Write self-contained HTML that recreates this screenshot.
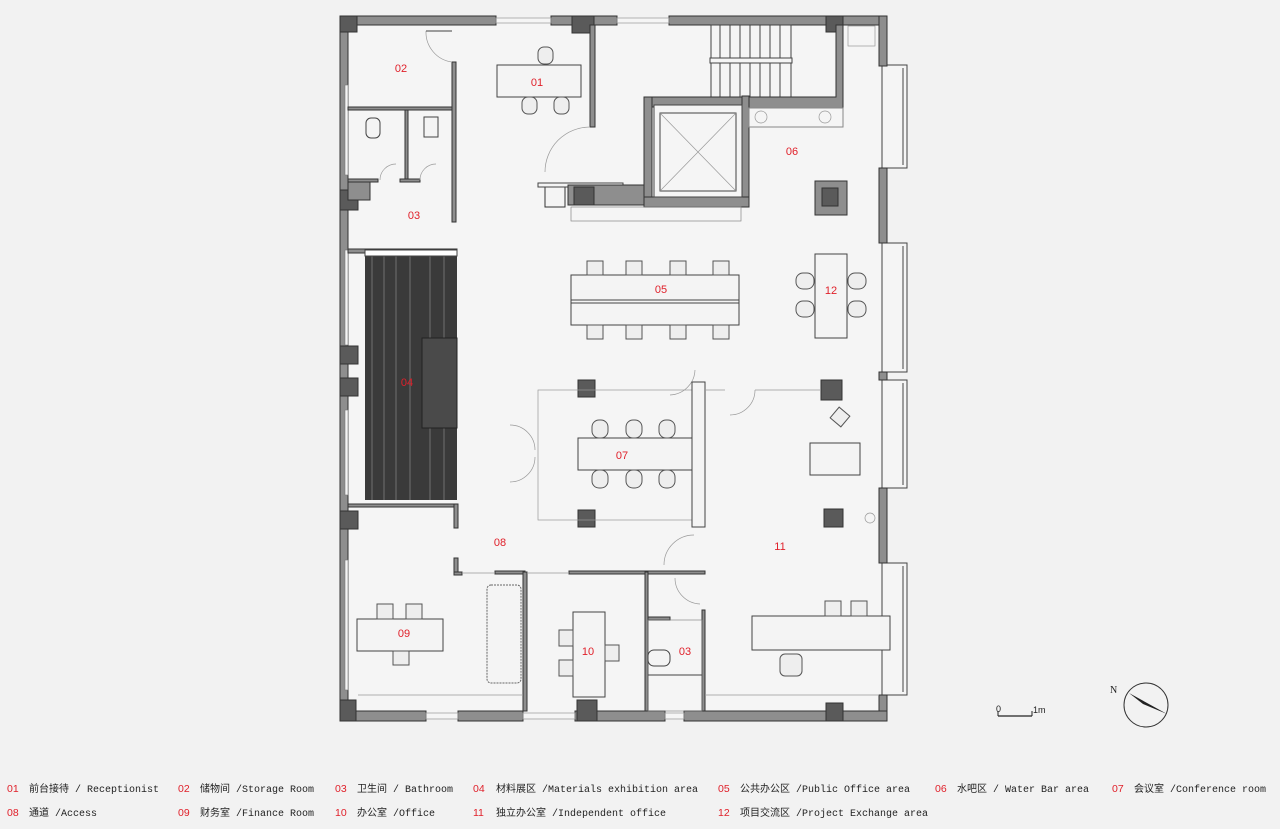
<!DOCTYPE html>
<html><head><meta charset="utf-8"><style>
html,body{margin:0;padding:0;background:#f2f2f2;}
svg{display:block}
.w{fill:#8e8e8e;stroke:#333;stroke-width:1}
.c{fill:#5a5a5a;stroke:#333;stroke-width:1}
.l{fill:none;stroke:#444;stroke-width:1}
.t{fill:none;stroke:#999;stroke-width:0.7}
.f{fill:#f4f4f4;stroke:#444;stroke-width:1}
.ch{fill:#eee;stroke:#555;stroke-width:1}
.r{fill:#e0202a;font-family:"Liberation Sans",sans-serif;font-size:11px;text-anchor:middle}
.lg{font-family:"Liberation Mono","Noto Sans CJK SC",monospace;font-size:10px;fill:#222}
.ln{font-family:"Liberation Sans",sans-serif;font-size:10.5px;fill:#e0202a}
</style></head><body>
<svg width="1280" height="829" viewBox="0 0 1280 829" xmlns="http://www.w3.org/2000/svg">
<rect width="1280" height="829" fill="#f2f2f2"/>
<!-- floor -->
<rect x="342" y="18" width="542" height="700" fill="#f5f5f5"/>
<!-- right bays -->
<g class="l" fill="none">
<rect x="882" y="65" width="25" height="103" fill="#f5f5f5"/>
<rect x="882" y="243" width="25" height="129" fill="#f5f5f5"/>
<rect x="882" y="380" width="25" height="108" fill="#f5f5f5"/>
<rect x="882" y="563" width="25" height="132" fill="#f5f5f5"/>
<line x1="903" y1="68" x2="903" y2="165"/><line x1="903" y1="246" x2="903" y2="369"/><line x1="903" y1="383" x2="903" y2="485"/><line x1="903" y1="566" x2="903" y2="692"/>
</g>
<!-- outer walls -->
<rect class="w" x="340" y="16" width="156" height="9"/>
<rect class="w" x="551" y="16" width="66" height="9"/>
<rect class="w" x="669" y="16" width="218" height="9"/>
<rect class="t" x="496" y="18" width="55" height="5"/>
<rect class="t" x="617" y="18" width="52" height="5"/>
<rect class="w" x="879" y="16" width="8" height="50"/>
<rect class="w" x="879" y="168" width="8" height="75"/>
<rect class="w" x="879" y="372" width="8" height="8"/>
<rect class="w" x="879" y="488" width="8" height="75"/>
<rect class="w" x="879" y="695" width="8" height="26"/>
<rect class="w" x="340" y="711" width="86" height="10"/>
<rect class="w" x="458" y="711" width="65" height="10"/>
<rect class="w" x="575" y="711" width="90" height="10"/>
<rect class="w" x="684" y="711" width="203" height="10"/>
<rect class="t" x="426" y="713" width="32" height="6"/><rect class="t" x="523" y="713" width="52" height="6"/><rect class="t" x="665" y="713" width="19" height="6"/>
<rect class="w" x="340" y="16" width="8" height="705"/>
<rect x="345" y="85" width="3" height="90" fill="#f5f5f5" stroke="#777" stroke-width="0.6"/>
<rect x="345" y="250" width="3" height="95" fill="#f5f5f5" stroke="#777" stroke-width="0.6"/>
<rect x="345" y="410" width="3" height="85" fill="#f5f5f5" stroke="#777" stroke-width="0.6"/>
<rect x="345" y="560" width="3" height="130" fill="#f5f5f5" stroke="#777" stroke-width="0.6"/>
<!-- columns -->
<g class="c">
<rect x="340" y="16" width="17" height="16"/><rect x="572" y="16" width="22" height="17"/><rect x="826" y="16" width="17" height="16"/>
<rect x="340" y="190" width="18" height="20"/><rect x="340" y="346" width="18" height="18"/><rect x="340" y="378" width="18" height="18"/>
<rect x="340" y="511" width="18" height="18"/><rect x="340" y="700" width="16" height="21"/>
<rect x="578" y="380" width="17" height="17"/><rect x="578" y="510" width="17" height="17"/>
<rect x="824" y="509" width="19" height="18"/><rect x="821" y="380" width="21" height="20"/>
<rect x="577" y="700" width="20" height="21"/><rect x="826" y="703" width="17" height="18"/>
<rect x="545" y="187" width="20" height="20" fill="#f4f4f4"/>
</g>
<!-- left rooms -->
<rect class="w" x="348" y="107" width="105" height="3"/>
<rect class="w" x="452" y="62" width="4" height="160"/>
<rect class="w" x="405" y="110" width="3" height="70"/>
<rect class="w" x="348" y="179" width="30" height="3"/><rect class="w" x="400" y="179" width="20" height="3"/>
<rect class="w" x="348" y="249" width="109" height="4"/>
<rect class="w" x="348" y="182" width="22" height="18" fill="#999"/>
<rect class="f" x="366" y="118" width="14" height="20" rx="5"/>
<rect class="f" x="424" y="117" width="14" height="20"/>
<path class="t" d="M380 180 A16 16 0 0 1 396 164 M420 180 A16 16 0 0 1 436 164 M426 31 A30 30 0 0 0 452 62"/>
<line class="l" x1="426" y1="31" x2="452" y2="31"/>
<!-- wood 04 -->
<rect x="365" y="256" width="92" height="244" fill="#3a3a3a"/>
<g stroke="#555" stroke-width="2">
<line x1="372" y1="256" x2="372" y2="500"/><line x1="384" y1="256" x2="384" y2="500"/><line x1="396" y1="256" x2="396" y2="500"/><line x1="410" y1="256" x2="410" y2="500"/><line x1="430" y1="256" x2="430" y2="500"/><line x1="444" y1="256" x2="444" y2="500"/>
</g>
<rect x="422" y="338" width="35" height="90" fill="#4a4a4a" stroke="#222"/>
<rect x="365" y="250" width="92" height="6" fill="#fff" stroke="#444"/>
<rect class="w" x="348" y="504" width="109" height="3"/>
<rect class="w" x="454" y="504" width="4" height="24"/>
<rect class="w" x="454" y="558" width="4" height="17"/>
<!-- mid horizontal wall -->
<rect class="w" x="454" y="572" width="8" height="3"/>
<rect class="w" x="495" y="571" width="30" height="3"/>
<rect class="w" x="569" y="571" width="136" height="3"/>
<rect class="w" x="523" y="572" width="4" height="139"/>
<rect class="w" x="645" y="572" width="3" height="139"/>
<rect class="w" x="702" y="610" width="3" height="101"/>
<rect class="w" x="648" y="617" width="22" height="3"/>
<line class="t" x1="462" y1="573" x2="495" y2="573"/><line class="t" x1="527" y1="573" x2="569" y2="573"/>
<rect x="648" y="620" width="54" height="91" fill="none" stroke="#777" stroke-width="0.6"/>
<line class="l" x1="648" y1="675" x2="702" y2="675"/>
<rect class="f" x="648" y="650" width="22" height="16" rx="6"/>
<path class="t" d="M675 578 A26 26 0 0 0 700 604 M670 395 A26 26 0 0 0 695 370"/>
<path class="t" d="M664 565 A30 30 0 0 1 694 535 M730 415 A25 25 0 0 0 755 390"/>
<!-- reception & core -->
<rect class="w" x="590" y="25" width="5" height="102"/>
<rect class="f" x="497" y="65" width="84" height="32"/>
<rect class="ch" x="538" y="47" width="15" height="17" rx="6"/><rect class="ch" x="522" y="97" width="15" height="17" rx="6"/><rect class="ch" x="554" y="97" width="15" height="17" rx="6"/>
<path class="t" d="M545 172 A45 45 0 0 1 590 127"/>
<rect class="f" x="538" y="183" width="85" height="4"/>
<!-- stair -->
<g class="l">
<rect x="711" y="25" width="80" height="72" fill="#f5f5f5"/>
<line x1="720" y1="25" x2="720" y2="97"/><line x1="730" y1="25" x2="730" y2="97"/><line x1="740" y1="25" x2="740" y2="97"/><line x1="750" y1="25" x2="750" y2="97"/><line x1="760" y1="25" x2="760" y2="97"/><line x1="770" y1="25" x2="770" y2="97"/><line x1="780" y1="25" x2="780" y2="97"/>
<rect x="710" y="58" width="82" height="5" fill="#f5f5f5"/>
</g>
<path d="M645 97 H836 V25 H843 V108 H742 V200 H654 V107 H652 V205 H568 V185 H645 Z" class="w"/>
<rect x="644" y="97" width="8" height="110" class="w"/>
<rect x="742" y="96" width="7" height="111" class="w"/>
<rect x="644" y="197" width="105" height="10" class="w"/>
<rect x="568" y="185" width="76" height="20" class="w"/>
<rect x="574" y="187" width="20" height="18" class="c"/>
<rect x="654" y="105" width="88" height="92" fill="#f5f5f5" stroke="#444"/>
<rect x="660" y="113" width="76" height="78" fill="none" stroke="#444"/>
<line class="t" x1="660" y1="113" x2="736" y2="191"/><line class="t" x1="736" y1="113" x2="660" y2="191"/>
<rect x="571" y="207" width="170" height="14" fill="none" stroke="#888" stroke-width="0.7"/>
<rect x="749" y="108" width="94" height="19" fill="#f5f5f5" stroke="#888"/>
<circle class="t" cx="761" cy="117" r="6"/><circle class="t" cx="825" cy="117" r="6"/>
<rect x="848" y="26" width="27" height="20" class="t"/>
<rect class="w" x="815" y="181" width="32" height="34" fill="#999"/><rect class="c" x="822" y="188" width="16" height="18"/>
<!-- 05 -->
<rect class="f" x="571" y="275" width="168" height="50"/><line class="l" x1="571" y1="300" x2="739" y2="300"/><line class="l" x1="571" y1="303" x2="739" y2="303"/>
<g class="ch">
<rect x="587" y="261" width="16" height="14"/><rect x="626" y="261" width="16" height="14"/><rect x="670" y="261" width="16" height="14"/><rect x="713" y="261" width="16" height="14"/>
<rect x="587" y="325" width="16" height="14"/><rect x="626" y="325" width="16" height="14"/><rect x="670" y="325" width="16" height="14"/><rect x="713" y="325" width="16" height="14"/>
</g>
<!-- 12 -->
<rect class="f" x="815" y="254" width="32" height="84"/>
<g class="ch"><rect x="796" y="273" width="18" height="16" rx="7"/><rect x="796" y="301" width="18" height="16" rx="7"/><rect x="848" y="273" width="18" height="16" rx="7"/><rect x="848" y="301" width="18" height="16" rx="7"/></g>
<!-- 07 -->
<rect x="538" y="390" width="155" height="130" fill="none" stroke="#999" stroke-width="0.7"/>
<rect class="f" x="578" y="438" width="115" height="32"/>
<g class="ch"><rect x="592" y="420" width="16" height="18" rx="7"/><rect x="626" y="420" width="16" height="18" rx="7"/><rect x="659" y="420" width="16" height="18" rx="7"/><rect x="592" y="470" width="16" height="18" rx="7"/><rect x="626" y="470" width="16" height="18" rx="7"/><rect x="659" y="470" width="16" height="18" rx="7"/></g>
<rect class="f" x="692" y="382" width="13" height="145"/>
<path class="t" d="M510 425 A25 25 0 0 1 535 450 M510 482 A25 25 0 0 0 535 457"/>
<line class="t" x1="705" y1="390" x2="725" y2="390"/><line class="t" x1="755" y1="390" x2="820" y2="390"/>
<!-- 11 -->
<rect class="f" x="810" y="443" width="50" height="32"/>
<rect class="f" x="752" y="616" width="138" height="34"/>
<g class="ch"><rect x="825" y="601" width="16" height="15"/><rect x="851" y="601" width="16" height="15"/><rect x="780" y="654" width="22" height="22" rx="5"/></g>
<rect class="ch" x="833" y="410" width="14" height="14" transform="rotate(40 840 417)"/>
<circle class="t" cx="870" cy="518" r="5"/>
<line class="t" x1="705" y1="695" x2="879" y2="695"/>
<line class="t" x1="358" y1="695" x2="523" y2="695"/>
<!-- 09 -->
<rect class="f" x="357" y="619" width="86" height="32"/>
<g class="ch"><rect x="377" y="604" width="16" height="15"/><rect x="406" y="604" width="16" height="15"/><rect x="393" y="651" width="16" height="14"/></g>
<rect x="487" y="585" width="34" height="98" rx="4" fill="#f4f4f4" stroke="#666" stroke-dasharray="2 1"/>
<!-- 10 -->
<rect class="f" x="573" y="612" width="32" height="85"/>
<g class="ch"><rect x="559" y="630" width="14" height="16"/><rect x="559" y="660" width="14" height="16"/><rect x="605" y="645" width="14" height="16"/></g>
<!-- labels -->
<text class="r" x="401" y="72">02</text><text class="r" x="537" y="86">01</text>
<text class="r" x="414" y="219">03</text><text class="r" x="792" y="155">06</text>
<text class="r" x="661" y="293">05</text><text class="r" x="831" y="294">12</text>
<text class="r" x="407" y="386">04</text><text class="r" x="622" y="459">07</text>
<text class="r" x="500" y="546">08</text><text class="r" x="780" y="550">11</text>
<text class="r" x="404" y="637">09</text><text class="r" x="588" y="655">10</text><text class="r" x="685" y="655">03</text>
<!-- scale & north -->
<line x1="998" y1="716" x2="1032" y2="716" stroke="#222" stroke-width="1.2"/>
<line x1="998" y1="711" x2="998" y2="716" stroke="#222"/><line x1="1032" y1="711" x2="1032" y2="716" stroke="#222"/>
<text x="996" y="712" font-family="Liberation Sans" font-size="9" fill="#222">0</text>
<text x="1033" y="713" font-family="Liberation Sans" font-size="9" fill="#222">1m</text>
<circle cx="1146" cy="705" r="22" fill="none" stroke="#333"/>
<path d="M1129 693 L1167 714 L1143 704 Z" fill="#222"/>
<text x="1110" y="693" font-family="Liberation Serif" font-size="10" fill="#222">N</text>
<!-- legend -->
<g>
<text class="ln" x="7" y="792">01</text><text class="lg" x="29" y="792">前台接待 / Receptionist</text>
<text class="ln" x="178" y="792">02</text><text class="lg" x="200" y="792">储物间 /Storage Room</text>
<text class="ln" x="335" y="792">03</text><text class="lg" x="357" y="792">卫生间 / Bathroom</text>
<text class="ln" x="473" y="792">04</text><text class="lg" x="496" y="792">材料展区 /Materials exhibition area</text>
<text class="ln" x="718" y="792">05</text><text class="lg" x="740" y="792">公共办公区 /Public Office area</text>
<text class="ln" x="935" y="792">06</text><text class="lg" x="957" y="792">水吧区 / Water Bar area</text>
<text class="ln" x="1112" y="792">07</text><text class="lg" x="1134" y="792">会议室 /Conference room</text>
<text class="ln" x="7" y="816">08</text><text class="lg" x="29" y="816">通道 /Access</text>
<text class="ln" x="178" y="816">09</text><text class="lg" x="200" y="816">财务室 /Finance Room</text>
<text class="ln" x="335" y="816">10</text><text class="lg" x="357" y="816">办公室 /Office</text>
<text class="ln" x="473" y="816">11</text><text class="lg" x="496" y="816">独立办公室 /Independent office</text>
<text class="ln" x="718" y="816">12</text><text class="lg" x="740" y="816">项目交流区 /Project Exchange area</text>
</g>
</svg>
</body></html>
